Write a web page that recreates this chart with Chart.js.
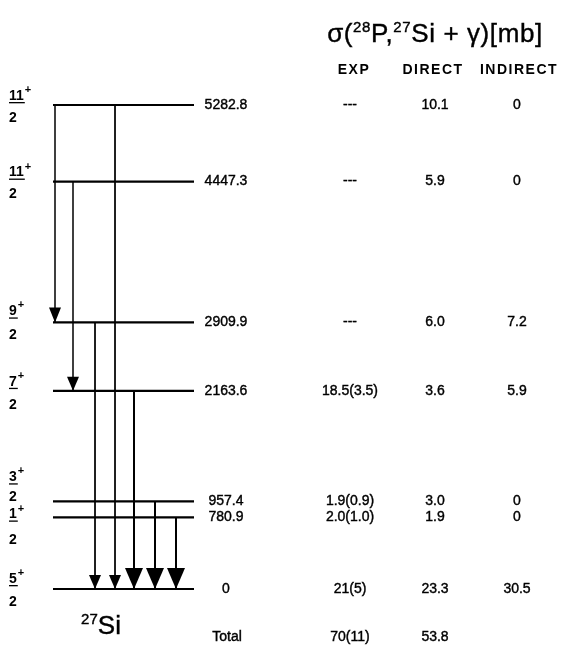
<!DOCTYPE html>
<html>
<head>
<meta charset="utf-8">
<script src="https://cdn.jsdelivr.net/npm/chart.js@4.4.1/dist/chart.umd.min.js"></script>
<style>
  body { margin: 0; background: #fff; }
  canvas { display: block; }
</style>
</head>
<body>
<canvas id="chart" width="567" height="646"></canvas>
<script>
// Level energies (keV) of 27Si and their spins
const levels = [5282.8, 4447.3, 2909.9, 2163.6, 957.4, 780.9, 0];
const spinNum = ["11", "11", "9", "7", "3", "1", "5"];
const spinDen = ["2", "2", "2", "2", "2", "2", "2"];

// Cross sections sigma(28P, 27Si + gamma) [mb]
const expVals = ["---", "---", "---", "18.5(3.5)", "1.9(0.9)", "2.0(1.0)", "21(5)"];
const directVals = [10.1, 5.9, 6.0, 3.6, 3.0, 1.9, 23.3];
const indirectVals = [0, 0, 7.2, 5.9, 0, 0, 30.5];
const totals = ["70(11)", "53.8", ""];
const columns = ["EXP", "DIRECT", "INDIRECT"];

// Gamma transitions (from level -> to level)
const transFrom = [5282.8, 4447.3, 2909.9, 5282.8, 2163.6, 957.4, 780.9];
const transTo = [2909.9, 2163.6, 0, 0, 0, 0, 0];

// layout of the drawing (pixels)
const arrowX = [55, 73, 95, 115, 134, 155, 176];
const arrowW = [1.5, 1.5, 1, 1, 2, 2, 2];
const headW = [12, 12, 12, 12, 18, 18, 18];
const headH = [15, 14, 14, 14, 21, 21, 21];
const numDy = [-9, -9, -11, -9, -24, -3, -10];
const denDy = [13, 13, 13, 14, -4, 23, 13];
const colX = [350, 435, 517];
const headX = [354, 433, 519];
const FONT = '"Liberation Sans", Arial, sans-serif';

const datasets = [];
levels.forEach(e => {
  datasets.push({
    data: [{x: 53, y: e}, {x: 194, y: e}],
    borderColor: "#000", borderWidth: 2.2, showLine: true, pointRadius: 0
  });
});
transFrom.forEach((f, i) => {
  datasets.push({
    data: [{x: arrowX[i], y: f}, {x: arrowX[i], y: transTo[i]}],
    borderColor: "#000", borderWidth: arrowW[i], showLine: true, pointRadius: 0
  });
});

function heavy(ctx, s, x, y) {
  ctx.fillText(s, x, y);
  ctx.strokeText(s, x, y);
}

function rich(ctx, parts, x, y, align) {
  let w = 0;
  parts.forEach(p => { ctx.font = p.f; w += ctx.measureText(p.t).width; });
  let cx = align === "center" ? x - w / 2 : x;
  ctx.textAlign = "left";
  parts.forEach(p => {
    ctx.font = p.f;
    heavy(ctx, p.t, cx, y + (p.dy || 0));
    cx += ctx.measureText(p.t).width;
  });
}

const scheme = {
  id: "scheme",
  afterDatasetsDraw(chart) {
    const ctx = chart.ctx;
    const xs = chart.scales.x, ys = chart.scales.y;
    ctx.save();
    ctx.fillStyle = "#000";
    ctx.strokeStyle = "#000";
    ctx.lineWidth = 0.4;

    // arrow heads
    transTo.forEach((t, i) => {
      const px = xs.getPixelForValue(arrowX[i]);
      const py = ys.getPixelForValue(t);
      ctx.beginPath();
      ctx.moveTo(px, py);
      ctx.lineTo(px - headW[i] / 2, py - headH[i]);
      ctx.lineTo(px + headW[i] / 2, py - headH[i]);
      ctx.closePath();
      ctx.fill();
    });

    ctx.textBaseline = "middle";
    levels.forEach((e, i) => {
      const py = ys.getPixelForValue(e);
      // spin fraction
      ctx.font = "bold 14px " + FONT;
      ctx.textAlign = "left";
      const ny = py + numDy[i], dy = py + denDy[i];
      ctx.fillText(spinNum[i], 9, ny);
      const nw = ctx.measureText(spinNum[i]).width;
      ctx.fillRect(9, ny + 6, nw + 1, 1.3);
      ctx.font = "bold 11px " + FONT;
      ctx.fillText("+", 10 + nw, ny - 6);
      ctx.font = "bold 14px " + FONT;
      ctx.fillText(spinDen[i], 9, dy);

      // energy and table values
      ctx.font = "14px " + FONT;
      ctx.textAlign = "center";
      heavy(ctx, e === 0 ? "0" : e.toFixed(1), 226, py);
      heavy(ctx, expVals[i], colX[0], py);
      heavy(ctx, directVals[i].toFixed(1), colX[1], py);
      heavy(ctx, indirectVals[i] === 0 ? "0" : indirectVals[i].toFixed(1), colX[2], py);
    });

    // total row
    const gy = ys.getPixelForValue(0) + 48;
    ctx.font = "14px " + FONT;
    heavy(ctx, "Total", 227, gy);
    totals.forEach((t, i) => heavy(ctx, t, colX[i], gy));

    // column headers
    ctx.font = "bold 14px " + FONT;
    ctx.letterSpacing = "1.5px";
    columns.forEach((c, i) => ctx.fillText(c, headX[i], 70));

    // title and nucleus label
    ctx.textBaseline = "alphabetic";
    ctx.letterSpacing = "0.6px";
    const big = "26px " + FONT, sm = "15px " + FONT;
    rich(ctx, [
      {t: "σ(", f: big}, {t: "28", f: sm, dy: -10}, {t: "P,", f: big},
      {t: "27", f: sm, dy: -10}, {t: "Si + γ)[mb]", f: big}
    ], 435, 42, "center");
    ctx.letterSpacing = "0px";
    ctx.lineWidth = 0;
    rich(ctx, [
      {t: "27", f: "15px " + FONT, dy: -10}, {t: "Si", f: "26px " + FONT}
    ], 101, 634, "center");
    ctx.restore();
  }
};

new Chart(document.getElementById("chart").getContext("2d"), {
  type: "scatter",
  data: { datasets: datasets },
  options: {
    responsive: false,
    animation: false,
    layout: { padding: 0 },
    plugins: { legend: { display: false }, tooltip: { enabled: false } },
    scales: {
      x: { type: "linear", min: 0, max: 567, display: false },
      y: { type: "linear", min: -622, max: 6429, display: false }
    }
  },
  plugins: [scheme]
});
</script>
</body>
</html>
